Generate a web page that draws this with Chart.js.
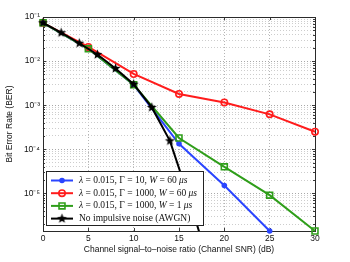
<!DOCTYPE html>
<html>
<head>
<meta charset="utf-8">
<script src="https://cdn.jsdelivr.net/npm/chart.js@4.4.1/dist/chart.umd.min.js"></script>
<style>
  body { margin: 0; background: #fff; }
  canvas { display: block; }
</style>
</head>
<body>
<canvas id="berChart" width="350" height="262"></canvas>
<script>
// Data
const snrAwgn = [0, 2, 4, 6, 8, 10, 12, 14, 16, 18];
const berAwgn = [0.074, 0.044, 0.0254, 0.0141, 0.0068, 0.0030, 8.9e-4, 1.55e-4, 9e-6, 4e-7];

const snr = [0, 5, 10, 15, 20, 25, 30];
const berG10W60 = [0.074, 0.019, 0.0029, 1.33e-4, 1.5e-5, 1.4e-6];
const berG1000W60 = [0.074, 0.021, 0.0051, 0.0018, 0.00115, 6.2e-4, 2.5e-4];
const berG1000W1 = [0.074, 0.019, 0.0029, 1.8e-4, 4.0e-5, 9.1e-6, 1.4e-6];

const xTicks = [0, 5, 10, 15, 20, 25, 30];
const yExponents = [-6, -5, -4, -3, -2, -1];
const yMin = 1.4e-6;
const yMax = 0.1;

// legend text, italic runs marked with 1
const legendRuns = [
  [["λ", 1], [" = 0.015, Γ = 10, ", 0], ["W", 1], [" = 60 ", 0], ["μs", 1]],
  [["λ", 1], [" = 0.015, Γ = 1000, ", 0], ["W", 1], [" = 60 ", 0], ["μs", 1]],
  [["λ", 1], [" = 0.015, Γ = 1000, ", 0], ["W", 1], [" = 1 ", 0], ["μs", 1]],
  [["No impulsive noise (AWGN)", 0]],
];

const sansFont = "'Liberation Sans', Arial, Helvetica, sans-serif";
const serifFont = "'Liberation Serif', 'Times New Roman', serif";

// pentagram marker like matlab 'p'
function starMarker(r) {
  const c = document.createElement("canvas");
  const s = Math.ceil(r * 2 + 2);
  c.width = s;
  c.height = s;
  const g = c.getContext("2d");
  g.beginPath();
  for (let i = 0; i < 10; i++) {
    const rad = i % 2 ? r * 0.42 : r;
    const a = -Math.PI / 2 + (i * Math.PI) / 5;
    g.lineTo(s / 2 + rad * Math.cos(a), s / 2 + rad * Math.sin(a));
  }
  g.closePath();
  g.fillStyle = "#000";
  g.fill();
  return c;
}
const star = starMarker(5.2);

const toPoints = (xs, ys) => ys.map((y, i) => ({ x: xs[i], y }));

const supDigits = { "-": "⁻", 0: "⁰", 1: "¹", 2: "²", 3: "³", 4: "⁴", 5: "⁵", 6: "⁶", 7: "⁷", 8: "⁸", 9: "⁹" };
const supText = (n) => String(n).split("").map((c) => supDigits[c]).join("");

const isDecade = (v) => Math.abs(Math.log10(v) - Math.round(Math.log10(v))) < 1e-6;

const datasets = [
  {
    label: "G10W60",
    data: toPoints(snr, berG10W60),
    borderColor: "#2a45ff",
    backgroundColor: "#2a45ff",
    borderWidth: 2,
    pointStyle: "circle",
    pointRadius: 2.8,
    pointBorderWidth: 0,
    order: 3,
    clip: { left: 10, top: 10, right: 10, bottom: 10 },
  },
  {
    label: "G1000W60",
    data: toPoints(snr, berG1000W60),
    borderColor: "#ff1c1c",
    backgroundColor: "rgba(0,0,0,0)",
    borderWidth: 2,
    pointStyle: "circle",
    pointRadius: 3.2,
    pointBorderWidth: 1.6,
    order: 2,
    clip: { left: 10, top: 10, right: 10, bottom: 10 },
  },
  {
    label: "G1000W1",
    data: toPoints(snr, berG1000W1),
    borderColor: "#2f9e1a",
    backgroundColor: "rgba(0,0,0,0)",
    borderWidth: 2,
    pointStyle: "rect",
    pointRadius: 4.2,
    pointBorderWidth: 1.6,
    order: 1,
    clip: { left: 10, top: 10, right: 10, bottom: 10 },
  },
  {
    label: "AWGN",
    data: toPoints(snrAwgn, berAwgn),
    borderColor: "#000",
    backgroundColor: "#000",
    borderWidth: 2,
    pointStyle: star,
    pointRadius: 5,
    order: 0,
    clip: { left: 10, top: 10, right: 10, bottom: 0 },
  },
];

function drawMarker(g, ds, x, y) {
  g.save();
  if (ds.pointStyle === star) {
    g.drawImage(star, x - star.width / 2, y - star.height / 2);
  } else {
    g.beginPath();
    if (ds.pointStyle === "rect") {
      const h = Math.SQRT1_2 * ds.pointRadius;
      g.rect(x - h, y - h, 2 * h, 2 * h);
    } else {
      g.arc(x, y, ds.pointRadius, 0, Math.PI * 2);
    }
    g.fillStyle = ds.backgroundColor;
    g.fill();
    if (ds.pointBorderWidth) {
      g.lineWidth = ds.pointBorderWidth;
      g.strokeStyle = ds.borderColor;
      g.stroke();
    }
  }
  g.restore();
}

// box, inward ticks (matlab style)
const axesBox = {
  id: "axesBox",
  beforeDatasetsDraw(chart) {
    const { ctx, chartArea: a, scales } = chart;
    ctx.save();
    ctx.strokeStyle = "#3a3a3a";
    ctx.lineWidth = 1;
    ctx.beginPath();
    scales.x.ticks.forEach((t) => {
      const px = Math.round(scales.x.getPixelForValue(t.value)) + 0.5;
      ctx.moveTo(px, a.bottom);
      ctx.lineTo(px, a.bottom - 3);
      ctx.moveTo(px, a.top);
      ctx.lineTo(px, a.top + 3);
    });
    scales.y.ticks.forEach((t) => {
      const py = Math.round(scales.y.getPixelForValue(t.value)) + 0.5;
      const len = isDecade(t.value) ? 3 : 2;
      ctx.moveTo(a.left, py);
      ctx.lineTo(a.left + len, py);
      ctx.moveTo(a.right, py);
      ctx.lineTo(a.right - len, py);
    });
    ctx.stroke();
    ctx.strokeStyle = "#2a2a2a";
    ctx.strokeRect(Math.round(a.left) + 0.5, Math.round(a.top) + 0.5,
      Math.round(a.right - a.left), Math.round(a.bottom - a.top));
    ctx.restore();
  },
};

const legendBox = {
  id: "legendBox",
  afterDatasetsDraw(chart) {
    const { ctx, chartArea: a } = chart;
    const w = 157;
    const h = 54;
    const left = a.left + 3;
    const top = a.bottom - 6 - h;
    ctx.save();
    ctx.fillStyle = "#fff";
    ctx.fillRect(left, top, w, h);
    ctx.strokeStyle = "#222";
    ctx.lineWidth = 1;
    ctx.strokeRect(Math.round(left) + 0.5, Math.round(top) + 0.5, w, h);
    ctx.textBaseline = "middle";
    legendRuns.forEach((runs, i) => {
      const ds = datasets[i];
      const y = top + 9.5 + i * 12.7;
      ctx.strokeStyle = ds.borderColor;
      ctx.lineWidth = ds.borderWidth;
      ctx.beginPath();
      ctx.moveTo(left + 5, y);
      ctx.lineTo(left + 27, y);
      ctx.stroke();
      drawMarker(ctx, ds, left + 16, y);
      let x = left + 33;
      ctx.fillStyle = "#111";
      runs.forEach(([txt, it]) => {
        ctx.font = (it ? "italic " : "") + "9.5px " + serifFont;
        ctx.fillText(txt, x, y);
        x += ctx.measureText(txt).width;
      });
    });
    ctx.restore();
  },
};

new Chart(document.getElementById("berChart"), {
  type: "line",
  data: { datasets },
  options: {
    responsive: false,
    animation: false,
    devicePixelRatio: 1,
    layout: { padding: { top: 17, right: 35, left: 0, bottom: 0 } },
    plugins: { legend: { display: false }, tooltip: { enabled: false } },
    elements: { line: { tension: 0 } },
    scales: {
      x: {
        type: "linear",
        min: 0,
        max: 30,
        afterFit: (s) => { s.height = 31; },
        afterBuildTicks: (s) => { s.ticks = xTicks.map((v) => ({ value: v })); },
        ticks: {
          autoSkip: false,
          maxRotation: 0,
          padding: 3,
          color: "#111",
          font: { family: sansFont, size: 8.5 },
        },
        grid: { color: "#b4b4b4", lineWidth: 1, drawTicks: false },
        border: { display: false, dash: [1, 2] },
        title: {
          display: true,
          text: "Channel signal–to–noise ratio (Channel SNR) (dB)",
          color: "#111",
          font: { family: sansFont, size: 8.5 },
          padding: { top: 0, bottom: 7 },
        },
      },
      y: {
        type: "logarithmic",
        min: yMin,
        max: yMax,
        afterFit: (s) => { s.width = 43; },
        afterBuildTicks: (s) => {
          const vals = [];
          yExponents.forEach((e) => {
            for (let k = 1; k <= 9; k++) {
              const v = k * Math.pow(10, e);
              if (v >= yMin && v <= yMax * 1.0001) vals.push(v);
            }
          });
          s.ticks = vals.map((v) => ({ value: v }));
        },
        ticks: {
          autoSkip: false,
          padding: 3,
          color: "#111",
          font: { family: sansFont, size: 8.5 },
          callback: (v) => (isDecade(v) ? "10" + supText(Math.round(Math.log10(v))) : ""),
        },
        grid: {
          color: (c) => (c.tick && isDecade(c.tick.value) ? "#a8a8a8" : "#cdcdcd"),
          lineWidth: 1,
          drawTicks: false,
        },
        border: { display: false, dash: [1, 2] },
        title: {
          display: true,
          text: "Bit Error Rate (BER)",
          color: "#111",
          font: { family: sansFont, size: 8.5 },
          padding: { top: 5, bottom: 0 },
        },
      },
    },
  },
  plugins: [axesBox, legendBox],
});
</script>
</body>
</html>
